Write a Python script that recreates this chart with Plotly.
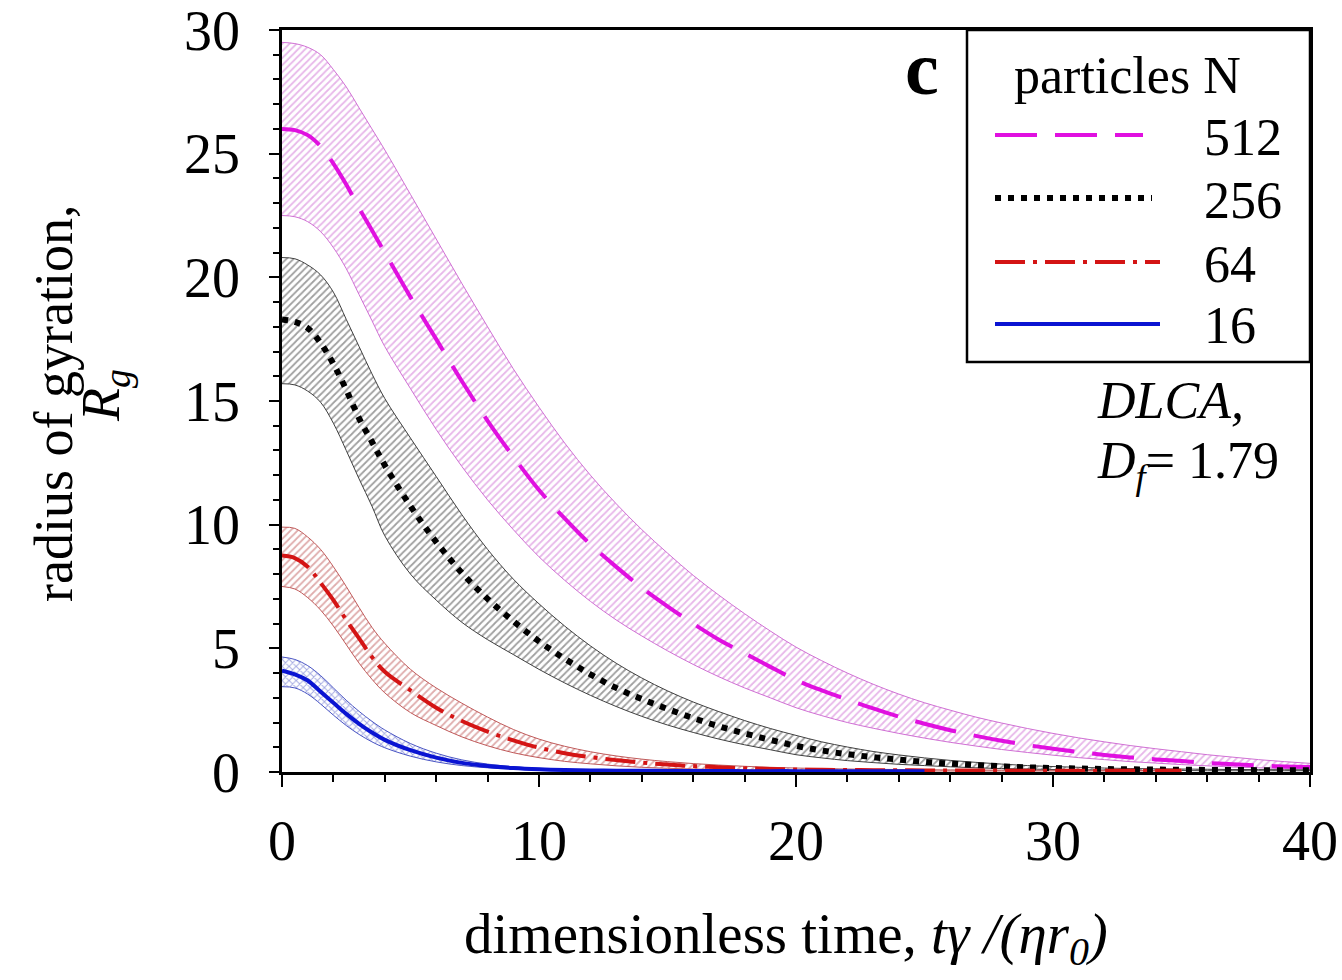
import plotly.graph_objects as go

# Dimensionless time grid (finer near t = 0 where the curves bend)
T = [0, 0.5, 1, 1.5, 2, 2.5, 3, 3.5, 4, 5, 6, 7, 8, 9, 10, 11, 12, 13, 14, 15,
     16, 17, 18, 19, 20, 21, 22, 23, 24, 25, 26, 27, 28, 29, 30, 31, 32, 33, 34,
     35, 36, 37, 38, 39, 40]

# N = 512
rg_512 = [26.0, 25.95, 25.75, 25.3, 24.6, 23.75, 22.8, 21.9, 21.0, 19.2, 17.5, 15.8,
          14.2, 12.75, 11.4, 10.25, 9.2, 8.3, 7.45, 6.7, 6.0, 5.35, 4.8, 4.25, 3.72,
          3.3, 2.93, 2.57, 2.24, 1.95, 1.69, 1.46, 1.26, 1.09, 0.94, 0.81, 0.69, 0.59,
          0.51, 0.44, 0.37, 0.31, 0.26, 0.22, 0.2]
hi_512 = [29.5, 29.45, 29.3, 29.0, 28.4, 27.7, 26.85, 26.0, 25.15, 23.35, 21.55, 19.75,
          18.0, 16.3, 14.75, 13.3, 12.0, 10.85, 9.8, 8.85, 7.95, 7.15, 6.4, 5.7, 5.05,
          4.5, 4.0, 3.55, 3.15, 2.8, 2.5, 2.22, 1.98, 1.76, 1.56, 1.38, 1.22, 1.07,
          0.94, 0.82, 0.7, 0.6, 0.5, 0.42, 0.35]
lo_512 = [22.5, 22.45, 22.25, 21.85, 21.2, 20.35, 19.3, 18.25, 17.2, 15.5, 13.85, 12.35,
          11.0, 9.8, 8.7, 7.75, 6.9, 6.15, 5.5, 4.9, 4.35, 3.85, 3.4, 3.0, 2.6,
          2.28, 2.0, 1.77, 1.56, 1.37, 1.2, 1.05, 0.91, 0.79, 0.68, 0.58, 0.5, 0.42,
          0.36, 0.3, 0.25, 0.2, 0.17, 0.14, 0.12]

# N = 256
rg_256 = [18.3, 18.2, 17.95, 17.35, 16.5, 15.45, 14.3, 13.35, 12.4, 10.75, 9.3, 8.05,
          7.0, 6.1, 5.28, 4.58, 3.95, 3.4, 2.95, 2.55, 2.18, 1.85, 1.56, 1.3, 1.06,
          0.87, 0.72, 0.6, 0.5, 0.41, 0.34, 0.28, 0.23, 0.19, 0.16, 0.14, 0.12, 0.11,
          0.1, 0.09, 0.085, 0.08, 0.075, 0.07, 0.07]
hi_256 = [20.8, 20.75, 20.5, 20.1, 19.4, 18.3, 17.2, 16.1, 15.1, 13.5, 11.95, 10.4,
          9.0, 7.8, 6.8, 5.9, 5.1, 4.4, 3.8, 3.28, 2.83, 2.44, 2.08, 1.76, 1.48,
          1.22, 1.01, 0.83, 0.69, 0.57, 0.47, 0.39, 0.32, 0.26, 0.22, 0.19, 0.16, 0.14,
          0.13, 0.12, 0.11, 0.1, 0.1, 0.09, 0.09]
lo_256 = [15.7, 15.65, 15.4, 14.95, 14.1, 13.0, 11.85, 10.75, 9.55, 8.0, 6.95, 6.05,
          5.35, 4.75, 4.15, 3.6, 3.1, 2.65, 2.25, 1.9, 1.6, 1.33, 1.1, 0.9, 0.7,
          0.57, 0.46, 0.38, 0.31, 0.26, 0.21, 0.17, 0.14, 0.12, 0.1, 0.09, 0.08, 0.07,
          0.06, 0.06, 0.05, 0.05, 0.05, 0.05, 0.05]

# N = 64 (up to t = 35)
rg_64 = [8.75, 8.65, 8.3, 7.65, 6.95, 6.15, 5.4, 4.65, 4.05, 3.3, 2.6, 2.06,
         1.63, 1.28, 0.98, 0.76, 0.6, 0.48, 0.38, 0.3, 0.24, 0.19, 0.15, 0.12, 0.1,
         0.09, 0.08, 0.075, 0.07, 0.065, 0.06, 0.06, 0.055, 0.055, 0.05, 0.05, 0.05,
         0.05, 0.05, 0.05]
hi_64 = [9.9, 9.85, 9.5, 9.0, 8.3, 7.5, 6.65, 5.85, 5.2, 4.15, 3.4, 2.78,
         2.22, 1.72, 1.33, 1.04, 0.82, 0.65, 0.52, 0.42, 0.34, 0.28, 0.23, 0.19, 0.16,
         0.14, 0.12, 0.11, 0.1, 0.09, 0.085, 0.08, 0.075, 0.07, 0.07, 0.065, 0.065,
         0.06, 0.06, 0.06]
lo_64 = [7.5, 7.4, 7.05, 6.55, 5.9, 5.15, 4.4, 3.75, 3.2, 2.4, 1.88, 1.42,
         1.06, 0.78, 0.58, 0.43, 0.33, 0.25, 0.19, 0.15, 0.12, 0.1, 0.08, 0.07, 0.06,
         0.055, 0.05, 0.045, 0.045, 0.04, 0.04, 0.04, 0.04, 0.04, 0.04, 0.04, 0.04,
         0.04, 0.04, 0.04]

# N = 16 (up to t = 25)
rg_16 = [4.1, 3.95, 3.7, 3.25, 2.8, 2.35, 1.95, 1.6, 1.3, 0.88, 0.58, 0.37,
         0.24, 0.16, 0.11, 0.08, 0.065, 0.055, 0.05, 0.045, 0.04, 0.04, 0.035, 0.035,
         0.035, 0.03, 0.03, 0.03, 0.03, 0.03]
hi_16 = [4.65, 4.55, 4.3, 3.9, 3.4, 2.9, 2.45, 2.05, 1.7, 1.15, 0.76, 0.49,
         0.32, 0.21, 0.15, 0.11, 0.09, 0.075, 0.065, 0.06, 0.055, 0.05, 0.05, 0.045,
         0.045, 0.04, 0.04, 0.04, 0.04, 0.04]
lo_16 = [3.45, 3.4, 3.15, 2.75, 2.3, 1.88, 1.52, 1.22, 0.98, 0.64, 0.41, 0.26,
         0.17, 0.11, 0.08, 0.06, 0.05, 0.045, 0.04, 0.035, 0.03, 0.03, 0.03, 0.03,
         0.03, 0.03, 0.03, 0.03, 0.03, 0.03]

SERIES = [
    # label, mean, upper, lower, line colour, band colour, hatch, dash, width
    ("512", rg_512, hi_512, lo_512, "#e010e0", "#d070d4", "/", "42px,18px", 4),
    ("256", rg_256, hi_256, lo_256, "#000000", "#404040", "/", "6px,7px", 6),
    ("64", rg_64, hi_64, lo_64, "#d41414", "#c05a5a", "/", "30px,8px,4px,8px", 4),
    ("16", rg_16, hi_16, lo_16, "#0a14d2", "#4a55c4", "x", "solid", 4),
]

FONT = "Liberation Serif"

fig = go.Figure()

# shaded spread bands
for label, mean, hi, lo, lc, bc, hatch, dash, lw in SERIES:
    t = T[:len(mean)]
    fig.add_trace(go.Scatter(x=t, y=lo, mode="lines", line=dict(color=bc, width=1, shape="spline"),
                             hoverinfo="skip", showlegend=False))
    fig.add_trace(go.Scatter(x=t, y=hi, mode="lines", line=dict(color=bc, width=1, shape="spline"),
                             fill="tonexty", fillcolor="rgba(0,0,0,0)",
                             fillpattern=dict(shape=hatch, fgcolor=bc, bgcolor="rgba(255,255,255,0)",
                                              size=5, solidity=0.35),
                             hoverinfo="skip", showlegend=False))

# mean curves
for label, mean, hi, lo, lc, bc, hatch, dash, lw in SERIES:
    t = T[:len(mean)]
    fig.add_trace(go.Scatter(x=t, y=mean, mode="lines", name=label, cliponaxis=False,
                             line=dict(color=lc, width=lw, dash=dash, shape="spline"),
                             showlegend=False))

L, R, TOP, BOT = 282, 1310, 30, 772
W, H = 1342, 980


def px(xp):
    return (xp - L) / (R - L)


def py(yp):
    return (BOT - yp) / (BOT - TOP)


shapes = []
annotations = []

# legend frame
shapes.append(dict(type="rect", xref="paper", yref="paper", x0=px(967), x1=1.0, y0=py(362), y1=1.0,
                   line=dict(color="black", width=2.5), fillcolor="white", layer="above"))
annotations.append(dict(text="particles N", xref="paper", yref="paper", x=px(1012), y=py(76),
                        xanchor="left", yanchor="middle", showarrow=False,
                        font=dict(family=FONT, size=52, color="black")))
legend_rows = [(137, 1143), (200, 1152), (264, 1160), (326, 1160)]
for (label, mean, hi, lo, lc, bc, hatch, dash, lw), (yc, xend) in zip(SERIES, legend_rows):
    shapes.append(dict(type="line", xref="paper", yref="paper", x0=px(995), x1=px(xend),
                       y0=py(yc - 2), y1=py(yc - 2), layer="above",
                       line=dict(color=lc, width=lw, dash=dash)))
    annotations.append(dict(text=label, xref="paper", yref="paper", x=px(1202), y=py(yc),
                            xanchor="left", yanchor="middle", showarrow=False,
                            font=dict(family=FONT, size=52, color="black")))

# panel letter and model note
annotations.append(dict(text="<b>c</b>", xref="paper", yref="paper", x=px(922), y=py(68),
                        xanchor="center", yanchor="middle", showarrow=False,
                        font=dict(family=FONT, size=76, color="black")))
annotations.append(dict(text="<i>DLCA,</i>", xref="paper", yref="paper", x=px(1095), y=py(400),
                        xanchor="left", yanchor="middle", showarrow=False,
                        font=dict(family=FONT, size=52, color="black")))
annotations.append(dict(text="<i>D</i><sub><i>f</i></sub>= 1.79", xref="paper", yref="paper",
                        x=px(1095), y=py(465), xanchor="left", yanchor="middle", showarrow=False,
                        font=dict(family=FONT, size=52, color="black")))

# axis titles
annotations.append(dict(text="dimensionless time, <i>tγ /(ηr<sub>0</sub>)</i>", xref="paper",
                        yref="paper", x=px(786), y=py(938), xanchor="center", yanchor="middle",
                        showarrow=False, font=dict(family=FONT, size=57, color="black")))
annotations.append(dict(text="radius of gyration,", xref="paper", yref="paper", x=px(54),
                        y=py(404), xanchor="center", yanchor="middle", textangle=-90,
                        showarrow=False, font=dict(family=FONT, size=54, color="black")))
annotations.append(dict(text="<i>R</i><sub><i>g</i></sub>", xref="paper", yref="paper", x=px(104),
                        y=py(396), xanchor="center", yanchor="middle", textangle=-90,
                        showarrow=False, font=dict(family=FONT, size=54, color="black")))

axis_common = dict(showline=True, linecolor="black", linewidth=2.5, mirror=True,
                   showgrid=False, zeroline=False, ticks="outside", tickwidth=2,
                   tickcolor="black", layer="below traces", ticklabeloverflow="allow",
                   automargin=False,
                   tickfont=dict(family=FONT, size=56, color="black"))

fig.update_layout(
    width=W, height=H,
    margin=dict(l=L, r=W - R, t=TOP, b=H - BOT, autoexpand=False),
    paper_bgcolor="white", plot_bgcolor="white",
    showlegend=False,
    xaxis=dict(range=[0, 40], tickvals=[0, 10, 20, 30, 40], ticklen=12,
               minor=dict(dtick=2, ticklen=7, tickwidth=2, tickcolor="black", ticks="outside"),
               ticklabelstandoff=6, **axis_common),
    yaxis=dict(range=[0, 30], tickvals=[0, 5, 10, 15, 20, 25, 30], ticklen=10,
               minor=dict(dtick=1, ticklen=6, tickwidth=2, tickcolor="black", ticks="outside"),
               ticklabelstandoff=18, **axis_common),
    shapes=shapes,
    annotations=annotations,
)

fig.write_html("out.html")
